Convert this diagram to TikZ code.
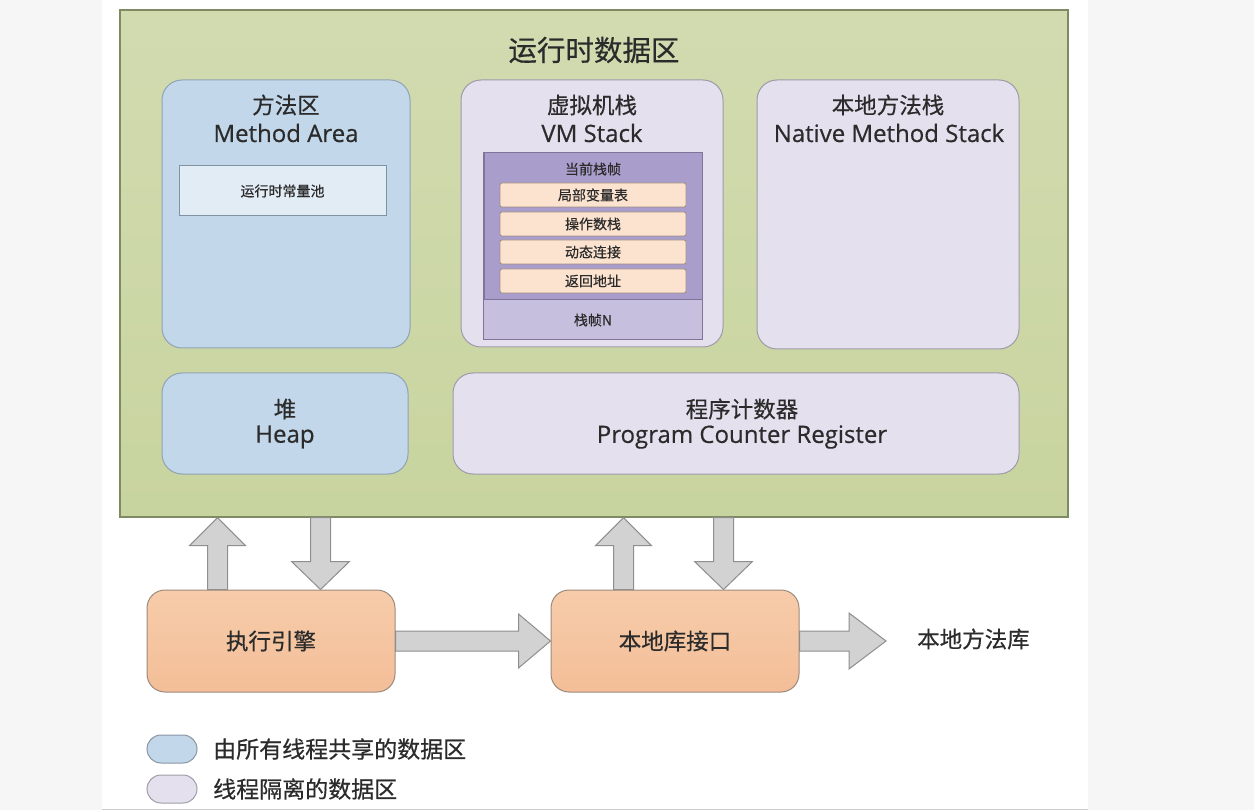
\documentclass[tikz,border=0pt]{standalone}
\usepackage{fontspec}
\setmainfont[FakeBold=0.5]{Open Sans}
\newfontfamily\cjk[FakeBold=0.5]{Noto Sans CJK SC}
\usetikzlibrary{calc}
\definecolor{pagebg}{HTML}{F6F6F6}
\definecolor{grfill}{HTML}{D2DBB0}
\definecolor{grfillb}{HTML}{C8D49F}
\definecolor{grline}{HTML}{7E8A62}
\definecolor{blfill}{HTML}{C3D7EA}
\definecolor{blline}{HTML}{8FA3B4}
\definecolor{lvfill}{HTML}{E4E0EE}
\definecolor{lvline}{HTML}{9E9AAA}
\definecolor{pufill}{HTML}{A99DCB}
\definecolor{puline}{HTML}{7E7599}
\definecolor{pulow}{HTML}{C7BFDE}
\definecolor{pcfill}{HTML}{FCE3CF}
\definecolor{pcline}{HTML}{A08E80}
\definecolor{exfill}{HTML}{F7CCAA}
\definecolor{exfillb}{HTML}{F3BE98}
\definecolor{exline}{HTML}{9C8A7C}
\definecolor{arfill}{HTML}{D2D2D2}
\definecolor{arline}{HTML}{8E8E8E}
\definecolor{txt}{HTML}{2B2B2B}
\definecolor{poolfill}{HTML}{E2ECF5}
\tikzset{
  outerbox/.style={draw=grline,line width=1.4pt,top color=grfill,bottom color=grfillb,inner sep=0pt},
  sharedbox/.style={draw=blline,line width=1pt,fill=blfill,rounded corners=20pt,inner sep=0pt},
  privbox/.style={draw=lvline,line width=1pt,fill=lvfill,rounded corners=20pt,inner sep=0pt},
  poolbox/.style={draw=blline!90!black,line width=1pt,fill=poolfill,inner sep=0pt,font=\cjk\fontsize{14}{16}\selectfont,text=txt},
  framebox/.style={draw=puline,line width=1pt,fill=pufill,inner sep=0pt},
  rowbox/.style={draw=pcline,line width=0.8pt,fill=pcfill,rounded corners=2pt,inner sep=0pt,minimum width=186pt,minimum height=24pt,font=\cjk\fontsize{14}{16}\selectfont,text=txt},
  engbox/.style={draw=exline,line width=1pt,top color=exfill,bottom color=exfillb,rounded corners=18pt,inner sep=0pt,minimum width=248pt,minimum height=102pt,font=\cjk\fontsize{22.5}{26}\selectfont,text=txt},
  cjktitle/.style={font=\cjk\fontsize{22.5}{27}\selectfont,text=txt,inner sep=0pt},
  lattitle/.style={font=\fontsize{24}{28}\selectfont,text=txt,inner sep=0pt},
  blockarrow/.style={draw=arline,line width=1pt,fill=arfill,line join=miter},
  legendcap/.style={draw=#1!70!black,line width=1pt,fill=#1,rounded corners=14pt,minimum width=50pt,minimum height=28pt,inner sep=0pt},
  legendtxt/.style={anchor=west,font=\cjk\fontsize{23}{26}\selectfont,text=txt,inner sep=0pt}
}
\begin{document}
\begin{tikzpicture}[x=1pt,y=-1pt]
\useasboundingbox (0,0) rectangle (1254,810);
\fill[pagebg] (0,0) rectangle (1254,810);
\fill[white] (102,0) rectangle (1088,810);
\draw[gray!40,line width=1pt] (102,809) -- (1088,809);

% outer runtime area
\node[outerbox,minimum width=948pt,minimum height=507pt] (rt) at (594,263.5) {};
\node[text=txt,font=\cjk\fontsize{28.5}{32}\selectfont,inner sep=0pt] (rttitle) at (594,50) {运行时数据区};

% method area
\node[sharedbox,minimum width=248pt,minimum height=268pt] (ma) at (286,214) {};
\node[cjktitle] (matitle) at (286,105) {方法区};
\node[lattitle] (matitle2) at (286,133) {Method Area};
\node[poolbox,minimum width=207pt,minimum height=50pt] (pool) at (282.5,191) {运行时常量池};

% VM stack
\node[privbox,minimum width=262pt,minimum height=267pt] (vms) at (592,213.5) {};
\node[cjktitle] (vmstitle) at (592,105) {虚拟机栈};
\node[lattitle] (vmstitle2) at (592,133) {VM Stack};
\node[framebox,minimum width=218pt,minimum height=186pt] (frame) at (593,246) {};
\fill[pulow] ($(frame.south west)+(0.5,-40)$) rectangle ($(frame.south east)+(-0.5,-0.5)$);
\draw[puline,line width=1pt] ($(frame.south west)+(0,-40)$) -- ($(frame.south east)+(0,-40)$);
\draw[puline,line width=1pt] (frame.north west) rectangle (frame.south east);
\node[text=txt,font=\cjk\fontsize{14}{16}\selectfont,inner sep=0pt] (cur) at (593,169) {当前栈帧};
\node[rowbox] (r1) at (593,195) {局部变量表};
\node[rowbox] (r2) at (593,224) {操作数栈};
\node[rowbox] (r3) at (593,252) {动态连接};
\node[rowbox] (r4) at (593,281) {返回地址};
\node[text=txt,font=\cjk\fontsize{14}{16}\selectfont,inner sep=0pt] (fn) at (593,320) {栈帧N};

% native method stack
\node[privbox,minimum width=262pt,minimum height=269pt] (nms) at (888,214.5) {};
\node[cjktitle] (nmstitle) at (888,105) {本地方法栈};
\node[lattitle] (nmstitle2) at (889,133) {Native Method Stack};

% heap
\node[sharedbox,minimum width=246pt,minimum height=101pt] (heap) at (285,423.5) {};
\node[cjktitle] (heaptitle) at (285,409) {堆};
\node[lattitle] (heaptitle2) at (285,437) {Heap};

% PC register
\node[privbox,minimum width=566pt,minimum height=101pt] (pc) at (736,423.5) {};
\node[cjktitle] (pctitle) at (742,409) {程序计数器};
\node[lattitle] (pctitle2) at (742,437) {Program Counter Register};

% execution engine & native interface
\node[engbox] (exec) at (271,641) {执行引擎};
\node[engbox] (nat) at (675,641) {本地库接口};
\node[text=txt,font=\cjk\fontsize{22.5}{26}\selectfont,anchor=west,inner sep=0pt] (lib) at (917,639) {本地方法库};

% vertical block arrows
\coordinate (u1b) at ($(exec.north west)+(71,0)$);
\coordinate (u1t) at (u1b |- rt.south);
\draw[blockarrow] ($(u1b)+(-10,0)$) -- ($(u1t)+(-10,28)$) -- ($(u1t)+(-28,28)$) -- (u1t) -- ($(u1t)+(28,28)$) -- ($(u1t)+(10,28)$) -- ($(u1b)+(10,0)$) -- cycle;
\coordinate (d1b) at ($(exec.north west)+(174,0)$);
\coordinate (d1t) at (d1b |- rt.south);
\draw[blockarrow] ($(d1t)+(-10,0)$) -- ($(d1b)+(-10,-28)$) -- ($(d1b)+(-29,-28)$) -- (d1b) -- ($(d1b)+(29,-28)$) -- ($(d1b)+(10,-28)$) -- ($(d1t)+(10,0)$) -- cycle;
\coordinate (u2b) at ($(nat.north west)+(73,0)$);
\coordinate (u2t) at (u2b |- rt.south);
\draw[blockarrow] ($(u2b)+(-10,0)$) -- ($(u2t)+(-10,28)$) -- ($(u2t)+(-28,28)$) -- (u2t) -- ($(u2t)+(28,28)$) -- ($(u2t)+(10,28)$) -- ($(u2b)+(10,0)$) -- cycle;
\coordinate (d2b) at ($(nat.north west)+(173,0)$);
\coordinate (d2t) at (d2b |- rt.south);
\draw[blockarrow] ($(d2t)+(-10,0)$) -- ($(d2b)+(-10,-28)$) -- ($(d2b)+(-29,-28)$) -- (d2b) -- ($(d2b)+(29,-28)$) -- ($(d2b)+(10,-28)$) -- ($(d2t)+(10,0)$) -- cycle;

% horizontal block arrows
\coordinate (h1s) at (exec.east);
\coordinate (h1e) at (nat.west);
\draw[blockarrow] ($(h1s)+(0,-10)$) -- ($(h1e)+(-32,-10)$) -- ($(h1e)+(-32,-27)$) -- (h1e) -- ($(h1e)+(-32,27)$) -- ($(h1e)+(-32,10)$) -- ($(h1s)+(0,10)$) -- cycle;
\coordinate (h2s) at (nat.east);
\coordinate (h2e) at ($(lib.west)+(-31,2)$);
\draw[blockarrow] ($(h2s)+(0,-10)$) -- ($(h2e)+(-37,-10)$) -- ($(h2e)+(-37,-28)$) -- (h2e) -- ($(h2e)+(-37,28)$) -- ($(h2e)+(-37,10)$) -- ($(h2s)+(0,10)$) -- cycle;

% legend
\node[legendcap=blfill] (lg1) at (172,749) {};
\node[legendtxt] (lg1t) at (213,749) {由所有线程共享的数据区};
\node[legendcap=lvfill] (lg2) at (172,789) {};
\node[legendtxt] (lg2t) at (213,789) {线程隔离的数据区};
\end{tikzpicture}
\end{document}
